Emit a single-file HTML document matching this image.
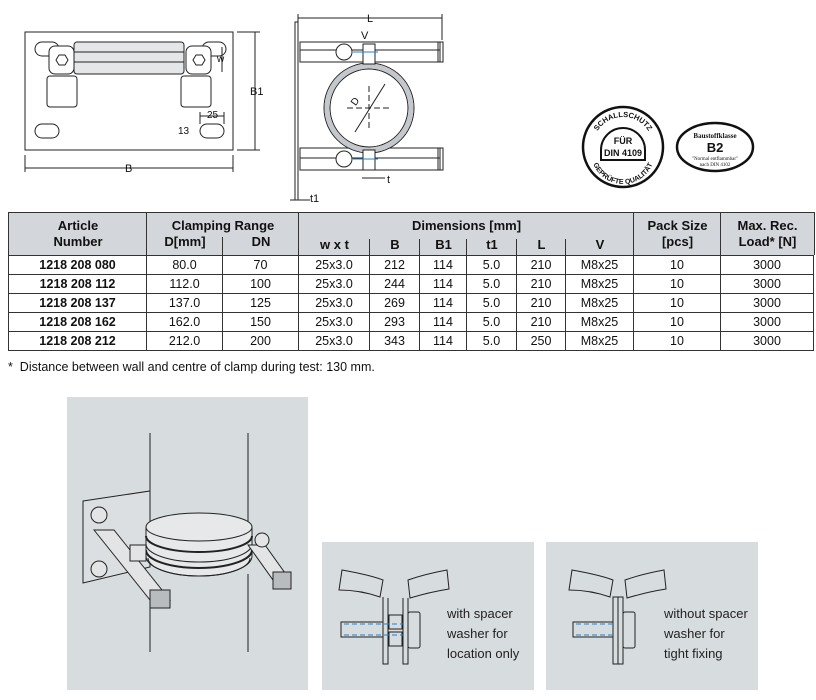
<!DOCTYPE html>
<html><head><meta charset="utf-8"><style>
body{margin:0;width:816px;height:700px;background:#fff;position:relative;font-family:"Liberation Sans",Arial,sans-serif;overflow:hidden}
table{position:absolute;left:8px;top:255px;border-collapse:collapse;table-layout:fixed;font-size:12.5px;color:#111}
td{border:1px solid #333;text-align:center;padding:0;height:18px;line-height:18px}
.hd{position:absolute;left:8px;top:212px;width:805px;height:42px;background:#d3d7db;border:1px solid #333;border-bottom:none}
.hd div{position:absolute;font-weight:bold;font-size:13px;text-align:center;color:#111;line-height:16px}
.vl{position:absolute;width:1px;background:#333}
.foot{position:absolute;left:8px;top:360px;font-size:12.5px;color:#111}
svg{position:absolute;left:0;top:0}
</style></head><body>
<svg width="816" height="700" viewBox="0 0 816 700" font-family="Liberation Sans, Arial, sans-serif">
<defs>
<path id="arcTop" d="M593,147 A30,30 0 0 1 653,147"/>
<path id="arcBot" d="M591,152 A32,32 0 0 0 655,152"/>
</defs>
<g fill="none" stroke="#222" stroke-width="1">
<rect x="25" y="32" width="208" height="118"/>
<rect x="35" y="42" width="24" height="14" rx="7"/>
<rect x="202" y="42" width="24" height="14" rx="7"/>
<rect x="35" y="124" width="24" height="14" rx="7"/>
<rect x="200" y="124" width="24" height="14" rx="7"/>
<rect x="49" y="46" width="25" height="28" rx="6" fill="#fff"/>
<rect x="186" y="46" width="25" height="28" rx="6" fill="#fff"/>
<polygon points="56,60 59,55 65,55 68,60 65,65 59,65"/>
<polygon points="193,60 196,55 202,55 205,60 202,65 196,65"/>
<rect x="74" y="42" width="110" height="32" rx="3" fill="#e4e6e8"/>
<line x1="74" y1="52" x2="184" y2="52"/><line x1="74" y1="62" x2="184" y2="62"/>
<rect x="47" y="76" width="30" height="31" rx="3" fill="#fff"/>
<rect x="181" y="76" width="30" height="31" rx="3" fill="#fff"/>
<line x1="25" y1="155" x2="25" y2="172"/><line x1="233" y1="155" x2="233" y2="172"/>
<line x1="25" y1="168" x2="233" y2="168"/>
<line x1="237" y1="32" x2="260" y2="32"/><line x1="237" y1="150" x2="260" y2="150"/>
<line x1="255" y1="32" x2="255" y2="150"/>
<line x1="222" y1="47" x2="222" y2="72"/>
<line x1="200" y1="116" x2="224" y2="116"/>
<line x1="200" y1="112" x2="200" y2="124"/><line x1="224" y1="112" x2="224" y2="124"/>
<rect x="295" y="22" width="3" height="178"/>
<line x1="298" y1="18" x2="442" y2="18"/><line x1="298" y1="14" x2="298" y2="30"/><line x1="442" y1="14" x2="442" y2="40"/>
<rect x="300" y="42" width="140" height="20"/><rect x="438" y="42" width="5" height="20"/>
<rect x="300" y="148" width="140" height="22"/><rect x="438" y="148" width="5" height="22"/>
<line x1="300" y1="50" x2="440" y2="50"/><line x1="300" y1="158" x2="440" y2="158"/>
<circle cx="344" cy="52" r="8" fill="#fff"/><circle cx="344" cy="159" r="8" fill="#fff"/>
<circle cx="369" cy="108" r="45"/>
<circle cx="369" cy="108" r="39"/>
<circle cx="369" cy="108" r="42" stroke="#c4c8cc" stroke-width="5"/>
<rect x="363" y="44" width="12" height="20" fill="#fff"/>
<rect x="363" y="150" width="12" height="20" fill="#fff"/>
<line x1="353" y1="52" x2="378" y2="52" stroke="#2a7fc0"/><line x1="353" y1="159" x2="378" y2="159" stroke="#2a7fc0"/>
<line x1="355" y1="132" x2="385" y2="84"/>
<line x1="347" y1="108" x2="392" y2="108" stroke-dasharray="6,3"/>
<line x1="369" y1="86" x2="369" y2="130" stroke-dasharray="6,3"/>
<line x1="290" y1="200" x2="310" y2="200"/><line x1="362" y1="178" x2="385" y2="178"/>
</g>
<g fill="#111" font-size="11">
<text x="125" y="172">B</text><text x="250" y="95">B1</text><text x="217" y="62" font-size="10">w</text>
<text x="207" y="118" font-size="10">25</text><text x="178" y="134" font-size="10">13</text>
<text x="367" y="22">L</text><text x="361" y="39">V</text><text x="387" y="183">t</text><text x="310" y="202">t1</text>
<text x="354" y="105" font-size="10" transform="rotate(-55 356 104)">D</text>
</g>
<g fill="none" stroke="#111">
<circle cx="623" cy="147" r="40" stroke-width="2.5"/>
<path d="M601,160 L601,150 A22,22 0 0 1 645,150 L645,160 Z" stroke-width="2"/>
<ellipse cx="715" cy="147" rx="38" ry="24" stroke-width="2.5"/>
</g>
<g fill="#111" font-weight="bold" text-anchor="middle">
<text x="623" y="144" font-size="9">FÜR</text><text x="623" y="156" font-size="9">DIN 4109</text>
<text font-size="7.5"><textPath href="#arcTop" startOffset="50%">SCHALLSCHUTZ</textPath></text>
<text font-size="7"><textPath href="#arcBot" startOffset="50%">GEPRÜFTE QUALITÄT</textPath></text>
<text x="715" y="138" font-size="7" font-family="Liberation Serif">Baustoffklasse</text>
<text x="715" y="152" font-size="13">B2</text>
<text x="715" y="160" font-size="5" font-weight="normal" font-family="Liberation Serif">"Normal entflammbar"</text>
<text x="715" y="166" font-size="5" font-weight="normal" font-family="Liberation Serif">nach DIN 4102</text>
</g>
<rect x="67" y="397" width="241" height="293" fill="#d7dcdf"/>
<rect x="322" y="542" width="212" height="148" fill="#d7dcdf"/>
<rect x="546" y="542" width="212" height="148" fill="#d7dcdf"/>
<g fill="none" stroke="#222" stroke-width="1">
<polygon points="83,501 150,491 150,567 83,583" fill="#dcdfe1"/>
<path d="M146,527 A53,14 0 0 1 252,527 L252,556 A53,20 0 0 1 146,556 Z" fill="#e6e8e9"/>
<path d="M146,527 A53,14 0 0 0 252,527"/>
<path d="M146,536 A53,16 0 0 0 252,536" stroke-width="2"/>
<path d="M146,544 A53,18 0 0 0 252,544"/>
<path d="M146,550 A53,18 0 0 0 252,550" stroke-width="2"/>
<path d="M148,558 A51,18 0 0 0 250,558"/>
<line x1="150" y1="433" x2="150" y2="522"/><line x1="248" y1="433" x2="248" y2="522"/>
<line x1="150" y1="578" x2="150" y2="652"/><line x1="248" y1="574" x2="248" y2="652"/>
<polygon points="94,530 150,600 170,600 114,530" fill="#e2e4e6"/>
<rect x="150" y="590" width="20" height="18" fill="#b8bcbf"/>
<polygon points="248,545 273,580 290,580 265,545" fill="#e2e4e6"/>
<rect x="273" y="572" width="18" height="17" fill="#b8bcbf"/>
<circle cx="99" cy="515" r="8" fill="#e2e4e6"/><circle cx="99" cy="569" r="8" fill="#e2e4e6"/>
<rect x="130" y="545" width="16" height="16" fill="#e2e4e6"/>
<circle cx="262" cy="540" r="7" fill="#e2e4e6"/>
<path d="M342,570 Q370,575 383,580 L380,597 Q360,590 339,590 Z"/>
<path d="M408,580 Q425,574 447,570 L449,589 Q430,592 410,598 Z"/>
<path d="M383,597 L383,664 L388,664 L388,598"/><path d="M403,598 L403,664 L408,664 L408,598"/>
<rect x="389" y="615" width="13" height="14"/><rect x="389" y="632" width="13" height="14"/>
<rect x="408" y="612" width="12" height="36" rx="2"/>
<rect x="341" y="622" width="42" height="15"/>
<line x1="344" y1="624" x2="403" y2="624" stroke="#2a7fc0" stroke-dasharray="5,3"/><line x1="344" y1="635" x2="403" y2="635" stroke="#2a7fc0" stroke-dasharray="5,3"/>
<path d="M572,570 Q600,575 613,580 L610,597 Q590,590 569,590 Z"/>
<path d="M625,580 Q642,574 664,570 L666,589 Q647,592 627,598 Z"/>
<rect x="613" y="597" width="5" height="67"/><rect x="618" y="597" width="5" height="67"/>
<rect x="623" y="612" width="12" height="36" rx="2"/>
<rect x="573" y="622" width="40" height="15"/>
<line x1="576" y1="624" x2="613" y2="624" stroke="#2a7fc0" stroke-dasharray="5,3"/><line x1="576" y1="635" x2="613" y2="635" stroke="#2a7fc0" stroke-dasharray="5,3"/>
</g>
<g fill="#222" font-size="13">
<text x="447" y="618">with spacer</text><text x="447" y="638">washer for</text><text x="447" y="658">location only</text>
<text x="664" y="618">without spacer</text><text x="664" y="638">washer for</text><text x="664" y="658">tight fixing</text>
</g>
</svg>
<div class="hd">
<div style="left:0;width:138px;top:5px">Article<br>Number</div>
<div style="left:138px;width:152px;top:5px">Clamping Range</div>
<div style="left:138px;width:76px;top:21px">D[mm]</div>
<div style="left:214px;width:76px;top:21px">DN</div>
<div style="left:290px;width:335px;top:5px">Dimensions [mm]</div>
<div style="left:290px;width:71px;top:24px">w x t</div>
<div style="left:361px;width:50px;top:24px">B</div>
<div style="left:411px;width:47px;top:24px">B1</div>
<div style="left:458px;width:50px;top:24px">t1</div>
<div style="left:508px;width:49px;top:24px">L</div>
<div style="left:557px;width:68px;top:24px">V</div>
<div style="left:625px;width:87px;top:5px">Pack Size<br>[pcs]</div>
<div style="left:712px;width:93px;top:5px">Max. Rec.<br>Load* [N]</div>
<span class="vl" style="left:137px;top:0;height:42px"></span>
<span class="vl" style="left:289px;top:0;height:42px"></span>
<span class="vl" style="left:624px;top:0;height:42px"></span>
<span class="vl" style="left:711px;top:0;height:42px"></span>
<span class="vl" style="left:213px;top:24px;height:18px"></span>
<span class="vl" style="left:360px;top:26px;height:16px"></span>
<span class="vl" style="left:410px;top:26px;height:16px"></span>
<span class="vl" style="left:457px;top:26px;height:16px"></span>
<span class="vl" style="left:507px;top:26px;height:16px"></span>
<span class="vl" style="left:556px;top:26px;height:16px"></span>
</div>
<table>
<colgroup><col style="width:138px"><col style="width:76px"><col style="width:76px"><col style="width:71px"><col style="width:50px"><col style="width:47px"><col style="width:50px"><col style="width:49px"><col style="width:68px"><col style="width:87px"><col style="width:93px"></colgroup>
<tr><td><b>1218 208 080</b></td><td>80.0</td><td>70</td><td>25x3.0</td><td>212</td><td>114</td><td>5.0</td><td>210</td><td>M8x25</td><td>10</td><td>3000</td></tr>
<tr><td><b>1218 208 112</b></td><td>112.0</td><td>100</td><td>25x3.0</td><td>244</td><td>114</td><td>5.0</td><td>210</td><td>M8x25</td><td>10</td><td>3000</td></tr>
<tr><td><b>1218 208 137</b></td><td>137.0</td><td>125</td><td>25x3.0</td><td>269</td><td>114</td><td>5.0</td><td>210</td><td>M8x25</td><td>10</td><td>3000</td></tr>
<tr><td><b>1218 208 162</b></td><td>162.0</td><td>150</td><td>25x3.0</td><td>293</td><td>114</td><td>5.0</td><td>210</td><td>M8x25</td><td>10</td><td>3000</td></tr>
<tr><td><b>1218 208 212</b></td><td>212.0</td><td>200</td><td>25x3.0</td><td>343</td><td>114</td><td>5.0</td><td>250</td><td>M8x25</td><td>10</td><td>3000</td></tr>
</table>
<div class="foot">* &nbsp;Distance between wall and centre of clamp during test: 130 mm.</div>
</body></html>
